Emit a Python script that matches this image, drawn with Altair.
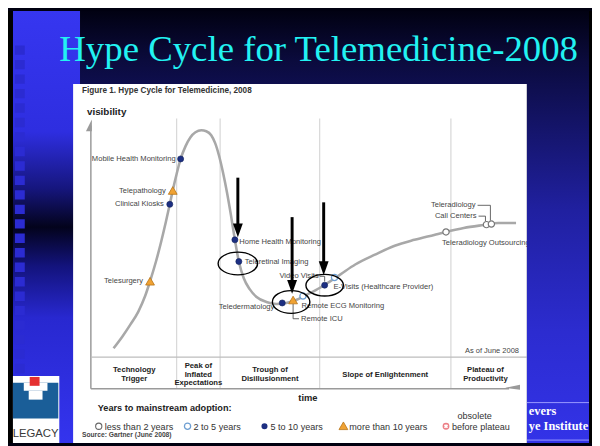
import altair as alt
import pandas as pd

# ---------------- data ----------------
# hype curve in the figure's own units: time (0 = y axis) and visibility (0 = top of phase band)
curve_time = [5.75, 8, 10, 12, 13.75, 15, 16.5, 17.75, 19, 20, 20.75, 21.75, 22.75, 24, 25.25,
              26.5, 28, 29.25, 30.5, 31.5, 32.5, 33.5, 34.5, 35.5, 36.5, 37.5, 38.75, 40.25, 42,
              44.5, 47, 49.5, 52, 54.5, 57, 59.5, 63.25, 67, 72, 77, 82, 87, 90, 94.5, 99.5,
              103.25, 107.75]
curve_vis = [2.25, 5.25, 8.25, 11.5, 15.5, 19.25, 24.25, 29, 34.25, 38.75, 42.25, 46.5, 50.25,
             53.5, 55.75, 57, 57.5, 57.25, 56.25, 54.25, 51, 46.75, 41.75, 36, 29.75, 24.25, 20,
             17.25, 15.25, 14, 13.5, 13.75, 14.5, 15.75, 17, 18.5, 21, 23.5, 26, 28.25, 29.75,
             31, 31.75, 32.75, 33.5, 34, 34]

tech_names = ["Telesurgery", "Clinical Kiosks", "Telepathology", "Mobile Health Monitoring",
              "Home Health Monitoring", "Teleretinal Imaging", "Teledermatology", "Remote ICU",
              "Remote ECG Monitoring", "E-Visits (Healthcare Provider)", "Video Visits",
              "Teleradiology Outsourcing", "Call Centers", "Teleradiology"]
tech_time = [15, 20, 20.75, 22.75, 36.5, 37.5, 48.5, 51.25, 53.75, 59.25, 61.75, 90, 100.25, 101.5]
tech_vis = [19.25, 38.75, 42.25, 50.25, 29.75, 24.25, 13.75, 14.5, 15.5, 18.25, 20.2, 31.75, 33.6, 33.75]
tech_years = [">10", "5-10", ">10", "5-10", "5-10", "5-10", "5-10", ">10", "2-5", "5-10", "2-5",
              "<2", "<2", "<2"]
label_time = [13.25, 18.5, 19, 21.5, 37.6, 39, 46.5, 53.25, 53.4, 61.5, 57.75, 89, 97.75, 97.5]
label_vis = [19.25, 38.75, 42, 50.25, 29.25, 24, 12.75, 9.75, 13, 17.75, 20.5, 29, 35.75, 38.5]
label_side = ["right", "right", "right", "right", "left", "left", "right", "left", "left", "left",
              "right", "left", "right", "right"]

# leader lines (time, vis) -> (time2, vis2)
leader_t1 = [51.25, 51.25, 98, 101.25, 98.25, 100, 58, 59.25]
leader_v1 = [13.5, 9.75, 38.5, 38.5, 35.75, 35.75, 20.5, 20.5]
leader_t2 = [51.25, 52.75, 101.25, 101.25, 100, 100, 59.25, 59.25]
leader_v2 = [9.75, 9.75, 38.5, 34.6, 35.75, 34.5, 20.5, 19.2]

phase_names = [["Technology", "Trigger"], ["Peak of", "Inflated", "Expectations"],
               ["Trough of", "Disillusionment"], ["Slope of Enlightenment"],
               ["Plateau of", "Productivity"]]
phase_center = [11, 27.25, 45.4, 74.6, 100]
phase_bounds = [21.75, 32.75, 58, 91.25]

legend_labels = ["less than 2 years", "2 to 5 years", "5 to 10 years", "more than 10 years",
                 "before plateau"]

# annotation arrows and ellipses added on the slide
arrow_time = [37.25, 51, 59]
arrow_top = [45.5, 35.5, 39.25]
arrow_tip = [30.4, 16.1, 20.8]
arrow_shaft_end = [33, 18.7, 23.4]
ellipse_time = [37.25, 50.75, 59.25]
ellipse_vis = [23.75, 14, 18.25]

# ---------------- helpers ----------------
OFF = 8
def px(v):
    return v - OFF

XS = alt.Scale(domain=[0, 110], range=[84, 524], nice=False, zero=False)
YS = alt.Scale(domain=[0, 60], range=[351, 111], nice=False, zero=False)

def X(f):
    return alt.X(f, type="quantitative", scale=XS, axis=None)

def Y(f):
    return alt.Y(f, type="quantitative", scale=YS, axis=None)

one = alt.Data(values=[{"k": 0}])

def grad(stops):
    return alt.Gradient(gradient="linear", x1=0, x2=0, y1=0, y2=1,
                        stops=[alt.GradientStop(color=c, offset=o) for o, c in stops])

def box(x0, y0, x1, y1, **kw):
    return alt.Chart(one).mark_rect(strokeWidth=0, **kw).encode(
        x=alt.value(px(x0)), x2=alt.value(px(x1)), y=alt.value(px(y0)), y2=alt.value(px(y1)))

def hline(x0, x1, y, **kw):
    return alt.Chart(one).mark_rule(**kw).encode(
        x=alt.value(px(x0)), x2=alt.value(px(x1)), y=alt.value(px(y)))

def txt(x, y, s, **kw):
    kw.setdefault("font", "Liberation Sans")
    kw.setdefault("baseline", "middle")
    return alt.Chart(one).mark_text(text=s, **kw).encode(x=alt.value(px(x)), y=alt.value(px(y)))

def sym(x, y, **kw):
    return alt.Chart(one).mark_point(opacity=1, **kw).encode(x=alt.value(px(x)), y=alt.value(px(y)))

def ellipse_path(a, b):
    k = 0.5523
    return (f"M {a} 0 C {a} {k*b:.2f} {k*a:.2f} {b} 0 {b} C {-k*a:.2f} {b} {-a} {k*b:.2f} {-a} 0 "
            f"C {-a} {-k*b:.2f} {-k*a:.2f} {-b} 0 {-b} C {k*a:.2f} {-b} {a} {-k*b:.2f} {a} 0 Z")

NAVY = "#1d2f82"
ORANGE = "#f0a233"
LBLUE = "#6e9fd2"
LABEL_GRAY = "#454545"

layers = []

# ---------------- slide background ----------------
layers.append(box(8, 8, 600, 82, fill=grad([(0, "#010112"), (0.68, "#0b0b3d"), (1, "#0e0e4d")])))
layers.append(box(13, 8, 81, 446, fill=grad([(0, "#3636f0"), (0.28, "#2e2ee0"), (0.41, "#16167e"),
                                             (0.5, "#03031c"), (0.59, "#13137c"), (0.71, "#2828d0"),
                                             (1, "#3434ee")])))
layers.append(alt.Chart(one).mark_rule(strokeWidth=10, strokeDash=[9.5, 5.17], color="#2b2bd2").encode(
    x=alt.value(px(20)), y=alt.value(px(43)), y2=alt.value(px(376))))
layers.append(box(8, 8, 13, 446, fill="#000000"))

# logo
layers.append(box(13, 378, 60, 446, fill="#ffffff"))
layers.append(box(13, 385, 59, 421, fill="#1a5e98"))
layers.append(box(24, 385, 48, 393, fill="#ffffff"))
layers.append(box(29, 393, 43, 402, fill="#ffffff"))
layers.append(box(30, 379, 40, 388, fill="#e53030"))
layers.append(txt(36, 437, "LEGACY", align="center", fontSize=11.5, color="#3a3a3a"))

# white figure panel
layers.append(box(74, 82, 534, 446, fill="#ffffff"))

# ---------------- hype cycle frame ----------------
bounds_df = pd.DataFrame({"t": phase_bounds, "top": [60.5] * 4, "bot": [-8] * 4})
layers.append(alt.Chart(bounds_df).mark_rule(color="#cfcfcf", strokeWidth=1).encode(
    x=X("t"), y=Y("top"), y2=alt.Y2("bot")))
layers.append(alt.Chart(one).mark_rule(color="#9a9a9a", strokeWidth=1.5).encode(
    x=alt.value(px(92)), y=alt.value(px(124)), y2=alt.value(px(391))))
layers.append(hline(92, 534, 359, color="#bdbdbd", strokeWidth=1.2))
layers.append(hline(92, 516, 391, color="#9a9a9a", strokeWidth=1.5))
layers.append(sym(92, 129, shape="M 1 1 L 1 -11 L -5 1 Z", size=4, filled=True, fill="#9a9a9a",
                  strokeWidth=0))
layers.append(sym(514, 391, shape="M -2 -1 L 13 -4 L 13 1 Z", size=4, filled=True, fill="#9a9a9a",
                  strokeWidth=0))

# curve
curve_df = pd.DataFrame({"t": curve_time, "v": curve_vis})
layers.append(alt.Chart(curve_df).mark_line(color="#a8a8a8", strokeWidth=2.6, interpolate="monotone").encode(
    x=X("t"), y=Y("v"), order="t:Q"))

# leader lines
lead_df = pd.DataFrame({"t": leader_t1, "v": leader_v1, "t2": leader_t2, "v2": leader_v2})
layers.append(alt.Chart(lead_df).mark_rule(color="#555555", strokeWidth=0.9).encode(
    x=X("t"), y=Y("v"), x2=alt.X2("t2"), y2=alt.Y2("v2")))

# technology points
tech_df = pd.DataFrame({"name": tech_names, "t": tech_time, "v": tech_vis, "years": tech_years,
                        "lt": label_time, "lv": label_vis, "side": label_side})
base = alt.Chart(tech_df)
layers.append(base.transform_filter(alt.datum.years == "5-10").mark_point(
    shape="circle", filled=True, fill=NAVY, stroke="#10205a", strokeWidth=0.6, size=38, opacity=1).encode(
    x=X("t"), y=Y("v")))
layers.append(base.transform_filter(alt.datum.years == ">10").mark_point(
    shape="triangle-up", filled=True, fill=ORANGE, stroke="#b77416", strokeWidth=0.8, size=80, opacity=1).encode(
    x=X("t"), y=Y("v")))
layers.append(base.transform_filter(alt.datum.years == "2-5").mark_point(
    shape="circle", filled=True, fill="#ffffff", stroke=LBLUE, strokeWidth=1.3, size=40, opacity=1).encode(
    x=X("t"), y=Y("v")))
layers.append(base.transform_filter(alt.datum.years == "<2").mark_point(
    shape="circle", filled=True, fill="#ffffff", stroke="#777777", strokeWidth=1.2, size=40, opacity=1).encode(
    x=X("t"), y=Y("v")))

for side in ["left", "right"]:
    layers.append(base.transform_filter(alt.datum.side == side).mark_text(
        align=side, baseline="middle", font="Liberation Sans", fontSize=7.7, fill=LABEL_GRAY).encode(
        x=X("lt"), y=Y("lv"), text="name:N"))

# annotation arrows and ellipses
arr_df = pd.DataFrame({"t": arrow_time, "top": arrow_top, "tip": arrow_tip, "end": arrow_shaft_end})
layers.append(alt.Chart(arr_df).mark_rule(color="#000000", strokeWidth=3).encode(
    x=X("t"), y=Y("top"), y2=alt.Y2("end")))
layers.append(alt.Chart(arr_df).mark_point(shape="M 0 0 L -5 -14 L 5 -14 Z", size=4, filled=True,
                                           fill="#000000", strokeWidth=0, opacity=1).encode(
    x=X("t"), y=Y("tip")))
ell_df = pd.DataFrame({"t": ellipse_time, "v": ellipse_vis, "id": [0, 1, 2]})
ell_shapes = [ellipse_path(20, 11.5), ellipse_path(19, 11.5), ellipse_path(19, 11)]
for i, shp in enumerate(ell_shapes):
    layers.append(alt.Chart(ell_df).transform_filter(alt.datum.id == i).mark_point(
        shape=shp, size=4, filled=False, stroke="#000000", strokeWidth=1.4, opacity=1).encode(
        x=X("t"), y=Y("v")))

# phase labels: one row per text line, stacked around the middle of the phase band
BAND_MID = -4.4      # visibility units (band spans 0 .. -8)
LINE_STEP = 2.1      # visibility units between lines
rows = []
for name_lines, t in zip(phase_names, phase_center):
    n = len(name_lines)
    for i, line in enumerate(name_lines):
        rows.append({"line": line, "t": t, "v": BAND_MID + ((n - 1) / 2 - i) * LINE_STEP})
phase_df = pd.DataFrame(rows)
layers.append(alt.Chart(phase_df).mark_text(
    align="center", baseline="middle", font="Liberation Sans",
    fontWeight="bold", fontSize=7.8, color="#222222").encode(
    x=X("t"), y=Y("v"), text="line:N"))

# figure texts
layers.append(txt(83, 89, "Figure 1. Hype Cycle for Telemedicine, 2008", align="left", fontSize=8.3,
                  fontWeight="bold", color="#333333"))
layers.append(txt(88, 110, "visibility", align="left", fontSize=10, fontWeight="bold", color="#222222"))
layers.append(txt(526, 353, "As of June 2008", align="right", fontSize=7.6, color="#444444"))
layers.append(txt(312, 400, "time", align="center", fontSize=9.5, fontWeight="bold", color="#222222"))
layers.append(txt(99, 411, "Years to mainstream adoption:", align="left", fontSize=9.3,
                  fontWeight="bold", color="#222222"))
layers.append(txt(83, 438, "Source: Gartner (June 2008)", align="left", fontSize=6.8,
                  fontWeight="bold", color="#444444"))

# legend row
leg_sym_x = [100, 190, 268, 348, 452]
layers.append(sym(leg_sym_x[0], 429, shape="circle", size=40, filled=True, fill="#ffffff",
                  stroke="#666666", strokeWidth=1.1))
layers.append(sym(leg_sym_x[1], 429, shape="circle", size=40, filled=True, fill="#ffffff",
                  stroke=LBLUE, strokeWidth=1.3))
layers.append(sym(leg_sym_x[2], 429, shape="circle", size=38, filled=True, fill=NAVY, strokeWidth=0))
layers.append(sym(leg_sym_x[3], 428.5, shape="triangle-up", size=80, filled=True, fill=ORANGE,
                  stroke="#b77416", strokeWidth=0.8))
layers.append(sym(leg_sym_x[4], 429, shape="circle", size=48, filled=True, fill="#ec7f86", strokeWidth=0))
layers.append(sym(leg_sym_x[4], 429, shape="cross", angle=45, size=18, filled=True, fill="#ffffff",
                  strokeWidth=0))
for xs, lab in zip(leg_sym_x, legend_labels):
    layers.append(txt(xs + 6, 429.5, lab, align="left", fontSize=9.2, color="#333333"))
layers.append(txt(481, 419, "obsolete", align="center", fontSize=9.2, color="#333333"))

# right strip of the slide
layers.append(box(534, 82, 600, 446, fill=grad([(0, "#0e0e4d"), (0.352, "#2020a0"),
                                                (0.692, "#2c2cd0"), (1, "#3333e8")])))
layers.append(hline(534, 597, 405, color="#9a9aff", strokeWidth=1))
layers.append(hline(534, 597, 443, color="#9a9aff", strokeWidth=1))
layers.append(txt(536, 414, "evers", align="left", font="Liberation Serif", fontSize=12.5,
                  fontWeight="bold", color="#ffffff"))
layers.append(txt(536, 429, "ye Institute", align="left", font="Liberation Serif", fontSize=12.5,
                  fontWeight="bold", color="#ffffff"))
layers.append(box(597, 8, 600, 446, fill="#000000"))

# slide title
layers.append(txt(60, 59, "Hype Cycle for Telemedicine-2008", align="left", baseline="alphabetic",
                  font="Liberation Serif", fontSize=37.3, color="#22f2f2"))

chart = alt.layer(*layers).properties(
    width=592, height=438, autosize=alt.AutoSizeParams(type="none"), padding=0,
    background="#000010").configure_view(stroke=None)

chart.save("out.html", embed_options={"renderer": "svg", "actions": False})
